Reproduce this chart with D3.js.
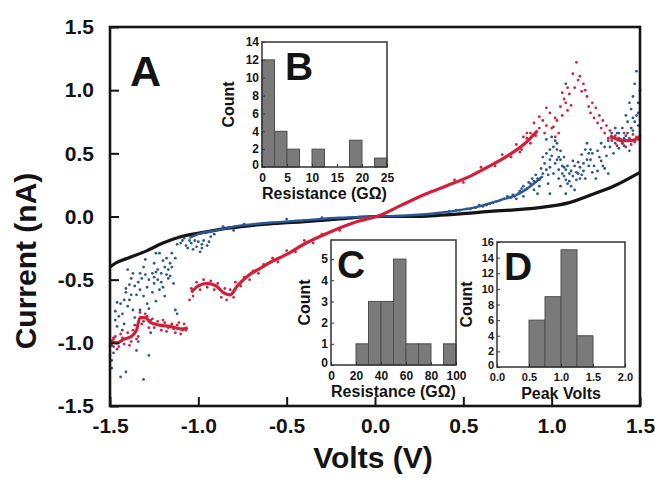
<!DOCTYPE html>
<html>
<head>
<meta charset="utf-8">
<script src="https://cdn.jsdelivr.net/npm/d3@7"></script>
<style>
body { margin: 0; background: #fff; }
svg { display: block; font-family: "Liberation Sans", Arial, sans-serif; font-weight: bold; }
</style>
</head>
<body>
<svg id="chart" width="655" height="478"></svg>
<script>
// ---- main I-V data, [volts, nA] ----
const voltTicks = [-1.5, -1.0, -0.5, 0.0, 0.5, 1.0, 1.5]
const currentTicks = [-1.5, -1.0, -0.5, 0.0, 0.5, 1.0, 1.5]

const blackLine = [[-1.50,-0.40],[-1.47,-0.37],[-1.40,-0.33],[-1.29,-0.27],[-1.20,-0.21],[-1.10,-0.16],
  [-0.99,-0.13],[-0.82,-0.09],[-0.61,-0.06],[-0.40,-0.04],[-0.20,-0.02],[0.00,0.00],[0.20,0.00],
  [0.37,0.01],[0.65,0.04],[0.93,0.07],[1.10,0.11],[1.22,0.17],[1.35,0.24],[1.50,0.35]]

const blueLine = [[-1.05,-0.17],[-1.00,-0.14],[-0.90,-0.11],[-0.80,-0.08],[-0.60,-0.05],[-0.40,-0.03],
  [-0.20,-0.01],[0.00,0.00],[0.20,0.01],[0.37,0.03],[0.48,0.05],[0.59,0.08],[0.71,0.13],[0.80,0.17],
  [0.88,0.24],[0.95,0.32]]

const blueDots = [[-1.50,-1.03],[-1.48,-1.08],[-1.49,-1.14],[-1.47,-0.82],[-1.45,-0.79],[-1.44,-0.69],
  [-1.42,-0.66],[-1.41,-0.60],[-1.41,-0.57],[-1.39,-0.54],[-1.38,-0.49],[-1.37,-0.45],[-1.40,-0.42],
  [-1.35,-0.62],[-1.33,-0.58],[-1.32,-0.49],[-1.31,-0.40],[-1.30,-0.34],[-1.29,-0.69],[-1.28,-0.73],
  [-1.27,-0.82],[-1.27,-0.92],[-1.25,-0.53],[-1.25,-0.48],[-1.24,-0.44],[-1.23,-0.42],[-1.22,-0.29],
  [-1.21,-0.52],[-1.20,-0.56],[-1.19,-0.63],[-1.18,-0.46],[-1.17,-0.42],[-1.16,-0.37],[-1.15,-0.29],
  [-1.14,-0.53],[-1.13,-0.74],[-1.12,-0.77],[-1.44,-1.27],[-1.41,-1.23],[-1.31,-1.29],[-1.28,-1.10],
  [-1.35,-1.06],[-1.34,-0.99],[-1.33,-0.74],[-1.37,-0.74],[-1.39,-0.66],[-1.43,-0.90],[-1.46,-0.87],
  [-1.48,-0.96],[-1.45,-1.00],[-1.24,-0.67],[-1.22,-0.58],[-1.19,-0.40],[-1.17,-0.49],[-1.25,-0.37],
  [-1.24,-0.29],[-1.08,-0.17],[-1.04,-0.21],[-1.01,-0.24],[-0.99,-0.28],[-0.97,-0.19],[-0.95,-0.23],
  [-1.06,-0.25],[-1.10,-0.21],[-0.93,-0.16],[-1.02,-0.19],[-0.98,-0.22],[-0.96,-0.13],[-0.91,-0.14],
  [-0.86,-0.08],[-0.80,-0.11],[-0.74,-0.06],[-0.50,-0.02],[-0.30,-0.01],
  [-1.47,-0.75],[-1.46,-0.68],[-1.43,-0.77],[-1.40,-0.71],[-1.38,-0.62],[-1.36,-0.55],[-1.34,-0.52],
  [-1.33,-0.45],[-1.30,-0.46],[-1.29,-0.56],[-1.28,-0.50],[-1.26,-0.45],[-1.23,-0.50],[-1.21,-0.45],
  [-1.20,-0.35],[-1.18,-0.33],[-1.16,-0.47],[-1.15,-0.40],[-1.13,-0.33],[-1.12,-0.22],[-1.09,-0.19],
  [-1.07,-0.23],[-1.05,-0.19],[-1.03,-0.26],[-1.00,-0.20],[-0.98,-0.25],[-0.94,-0.20],[-1.49,-1.20],
  [-1.50,-1.10],[-1.48,-1.03],[-1.42,-0.85],[-1.36,-0.80],[-1.31,-0.63],[-1.26,-0.60],
  [0.42,0.04],[0.48,0.05],[0.54,0.06],[0.59,0.09],[0.65,0.10],[0.71,0.13],[0.75,0.16],[0.78,0.17],
  [0.82,0.20],[0.84,0.24],[0.86,0.22],[0.88,0.26],[0.90,0.28],[0.92,0.30],[0.93,0.29],[0.95,0.34],
  [0.97,0.37],[0.99,0.39],[0.90,0.21],[0.80,0.14],[0.84,0.16],[0.93,0.24],[0.95,0.47],[0.97,0.50],
  [0.99,0.53],[1.01,0.55],[1.03,0.53],[1.04,0.47],[1.05,0.45],[1.07,0.39],[1.08,0.37],[1.10,0.34],
  [1.12,0.32],[1.14,0.29],[1.15,0.34],[1.16,0.39],[1.18,0.42],[1.20,0.45],[1.21,0.50],[1.22,0.53],
  [0.99,0.45],[1.02,0.42],[1.06,0.34],[1.08,0.29],[1.09,0.26],[1.11,0.24],[1.13,0.21],[0.97,0.61],
  [1.00,0.63],[1.03,0.58],[1.08,1.05],[0.98,0.26],[1.05,0.24],[1.08,0.18],[1.01,0.34],[1.04,0.37],
  [1.17,0.49],[1.19,0.53],[1.20,0.58],[0.99,0.18],[0.92,0.18],
  [1.00,0.48],[1.02,0.60],[1.03,0.45],[1.05,0.52],[1.06,0.40],[1.07,0.47],[1.09,0.40],[1.10,0.28],
  [1.11,0.36],[1.13,0.40],[1.14,0.35],[1.16,0.30],[1.17,0.33],[1.18,0.36],[1.19,0.30],[1.21,0.40],
  [1.22,0.45],[1.23,0.50],[0.96,0.42],[0.98,0.33],[0.94,0.38],[0.91,0.33],[0.89,0.30],[0.87,0.27],
  [0.85,0.21],[0.83,0.22],[0.81,0.18],[0.79,0.16],[0.77,0.15],[0.73,0.14],[0.69,0.12],[0.67,0.11],
  [0.63,0.09],[0.61,0.08],[0.57,0.07],[0.52,0.06],[0.46,0.05],[1.12,0.44],[1.15,0.43],[1.04,0.30],
  [1.07,0.32],
  [1.24,0.40],[1.26,0.36],[1.28,0.44],[1.30,0.38],[1.31,0.48],[1.33,0.55],[1.34,0.62],[1.35,0.50],
  [1.36,0.58],[1.37,0.66],[1.38,0.54],[1.39,0.61],[1.40,0.70],[1.41,0.56],[1.42,0.64],[1.43,0.75],
  [1.44,0.60],[1.45,0.85],[1.46,0.68],[1.46,0.95],[1.47,1.05],[1.48,0.80],[1.48,1.15],[1.49,0.90],
  [1.50,1.00],[1.49,0.72],[1.44,0.52],[1.40,0.58],[1.32,0.34],[1.29,0.40],[1.27,0.47],[1.25,0.30],
  [1.23,0.35],[1.26,0.52],[1.28,0.58],[1.30,0.55],[1.32,0.60],[1.34,0.66],[1.36,0.70],[1.38,0.66],
  [1.41,0.62],[1.43,0.66],[1.45,0.70],[1.47,0.75],[1.49,0.82],[1.42,0.80],[1.44,0.90],[1.46,0.78]]

const redLineLow = [[-1.50,-0.98],[-1.46,-1.00],[-1.42,-0.97],[-1.38,-0.95],[-1.35,-0.90],[-1.33,-0.80],
  [-1.30,-0.80],[-1.27,-0.84],[-1.22,-0.86],[-1.16,-0.87],[-1.10,-0.89],[-1.06,-0.88]]

const redLineMid = [[-1.04,-0.60],[-1.00,-0.55],[-0.95,-0.53],[-0.90,-0.55],[-0.86,-0.60],[-0.82,-0.62],
  [-0.78,-0.55],[-0.72,-0.47],[-0.65,-0.41],[-0.59,-0.36],[-0.50,-0.30],[-0.39,-0.21],[-0.25,-0.12],
  [-0.10,-0.04],[0.03,0.01],[0.15,0.09],[0.29,0.18],[0.40,0.24],[0.54,0.32],[0.65,0.40],[0.75,0.48],
  [0.85,0.58],[0.92,0.68]]

const redLineTail = [[1.33,0.64],[1.40,0.60],[1.45,0.60],[1.50,0.63]]

const redDots = [[-1.49,-1.02],[-1.47,-0.95],[-1.45,-1.03],[-1.44,-0.93],[-1.42,-1.01],[-1.40,-0.92],
  [-1.38,-0.99],[-1.37,-0.90],[-1.36,-0.86],[-1.34,-0.95],[-1.33,-0.76],[-1.31,-0.83],[-1.30,-0.77],
  [-1.28,-0.88],[-1.26,-0.81],[-1.25,-0.88],[-1.23,-0.83],[-1.21,-0.90],[-1.19,-0.84],[-1.18,-0.91],
  [-1.15,-0.85],[-1.13,-0.92],[-1.12,-0.86],[-1.10,-0.93],[-1.08,-0.85],[-1.07,-0.90],
  [-1.48,-0.97],[-1.46,-1.05],[-1.43,-0.96],[-1.39,-1.02],[-1.35,-0.97],[-1.32,-0.85],[-1.29,-0.79],
  [-1.24,-0.85],[-1.20,-0.82],[-1.17,-0.88],[-1.14,-0.89],[-1.11,-0.84],[-1.09,-0.90],
  [-1.05,-0.66],[-1.04,-0.57],[-1.03,-0.63],[-1.01,-0.52],[-0.99,-0.58],[-0.97,-0.50],[-0.95,-0.56],
  [-0.93,-0.51],[-0.91,-0.58],[-0.89,-0.53],[-0.87,-0.64],[-0.85,-0.57],[-0.84,-0.66],[-0.82,-0.58],
  [-0.80,-0.64],[-0.79,-0.52],[-0.76,-0.55],[-0.74,-0.48],[-0.71,-0.50],[-0.69,-0.43],[-0.66,-0.45],
  [-0.63,-0.38],[-0.58,-0.33],[-0.55,-0.36],[-0.50,-0.27],[-0.45,-0.28],[-0.40,-0.19],[-0.35,-0.21],
  [-0.30,-0.14],[-0.20,-0.11],[0.45,0.29],[0.50,0.27],[0.60,0.39],[0.68,0.40],[0.72,0.49],[0.77,0.47],
  [0.82,0.51],[0.86,0.62],
  [0.80,0.57],[0.83,0.53],[0.84,0.63],[0.86,0.66],[0.88,0.58],[0.88,0.66],[0.90,0.74],[0.91,0.64],
  [0.93,0.79],[0.93,0.70],[0.95,0.76],[0.96,0.66],[0.97,0.72],[0.99,0.82],[1.00,0.70],[1.01,0.71],
  [1.02,0.78],[1.03,0.76],[1.04,0.66],[1.05,0.87],[1.06,0.80],[1.07,0.93],[1.08,0.90],[1.09,0.84],
  [1.10,0.97],[1.11,0.88],[1.12,1.13],[1.13,1.02],[1.14,1.22],[1.15,1.08],[1.16,1.11],[1.17,0.99],
  [1.18,1.05],[1.19,1.00],[1.20,0.95],[1.21,0.87],[1.22,0.82],[1.23,0.90],[1.24,0.78],[1.25,0.86],
  [1.26,0.74],[1.27,0.80],[1.28,0.70],[1.29,0.76],[1.30,0.66],[1.31,0.72],[1.32,0.62],[1.33,0.68],
  [1.34,0.60],[1.36,0.64],[1.37,0.56],[1.38,0.62],[1.40,0.58],[1.41,0.66],[1.42,0.55],[1.44,0.62],
  [1.45,0.57],[1.46,0.65],[1.47,0.59],[1.48,0.63],[1.49,0.61],[1.50,0.64],[1.02,0.63],[0.97,0.86],
  [1.06,0.98],[1.09,1.02]]

// ---- histogram insets ----
const binStartsB = [0, 2.5, 5, 7.5, 10, 12.5, 15, 17.5, 20, 22.5]
const countsB = [12, 4, 2, 0, 2, 0, 0, 3, 0, 1]
const xTicksB = [0, 5, 10, 15, 20, 25]
const yTicksB = [0, 2, 4, 6, 8, 10, 12, 14]

const binStartsC = [0, 10, 20, 30, 40, 50, 60, 70, 80, 90]
const countsC = [0, 0, 1, 3, 3, 5, 1, 1, 0, 1]
const xTicksC = [0, 20, 40, 60, 80, 100]
const yTicksC = [0, 1, 2, 3, 4, 5]

const binStartsD = [0, 0.25, 0.5, 0.75, 1.0, 1.25, 1.5, 1.75]
const countsD = [0, 0, 6, 9, 15, 4, 0, 0]
const xTicksD = [0.0, 0.5, 1.0, 1.5, 2.0]
const yTicksD = [0, 2, 4, 6, 8, 10, 12, 14, 16]

const RED = '#d3203a'
const BLUE = '#2c5796'
const INK = '#141414'

let svg = d3.select('#chart')

let x = d3.scaleLinear().domain([-1.5, 1.5]).range([110, 640])
let y = d3.scaleLinear().domain([-1.5, 1.5]).range([406, 27])

let line = d3.line()
.x(d => x(d[0]))
.y(d => y(d[1]))
.curve(d3.curveMonotoneX)

let data = svg.append('g')

// black trace
data.append('path')
.attr('d', line(blackLine))
.attr('fill', 'none')
.attr('stroke', INK)
.attr('stroke-width', 3.2)

// blue trace
data.append('path')
.attr('d', line(blueLine))
.attr('fill', 'none')
.attr('stroke', BLUE)
.attr('stroke-width', 2.4)

data.append('g')
.selectAll('circle')
.data(blueDots)
.enter()
.append('circle')
.attr('cx', d => x(d[0]))
.attr('cy', d => y(d[1]))
.attr('r', 1.4)
.attr('fill', BLUE)

// red trace
;[redLineLow, redLineMid, redLineTail].forEach(seg => {
	data.append('path')
	.attr('d', line(seg))
	.attr('fill', 'none')
	.attr('stroke', RED)
	.attr('stroke-width', 3.2)
})

data.append('g')
.selectAll('circle')
.data(redDots)
.enter()
.append('circle')
.attr('cx', d => x(d[0]))
.attr('cy', d => y(d[1]))
.attr('r', 1.4)
.attr('fill', RED)

// main axes
let fmt = d => d.toFixed(1)

let xAxis = svg.append('g')
.attr('transform', 'translate(0,406)')
.call(d3.axisBottom(x).tickValues(voltTicks).tickFormat(fmt).tickSizeInner(-9).tickSizeOuter(0).tickPadding(12))

let yAxis = svg.append('g')
.attr('transform', 'translate(110,0)')
.call(d3.axisLeft(y).tickValues(currentTicks).tickFormat(fmt).tickSizeInner(-9).tickSizeOuter(0).tickPadding(16))

;[xAxis, yAxis].forEach(ax => {
	ax.select('.domain').remove()
	ax.selectAll('line').attr('stroke', INK).attr('stroke-width', 2)
	ax.selectAll('text').attr('fill', INK).style('font-size', '21px').style('font-weight', 'bold').style('font-family', '"Liberation Sans", Arial, sans-serif')
})

svg.append('rect')
.attr('x', 110).attr('y', 27)
.attr('width', 530).attr('height', 379)
.attr('fill', 'none')
.attr('stroke', INK)
.attr('stroke-width', 2.6)

svg.append('text')
.attr('x', 373).attr('y', 468)
.attr('text-anchor', 'middle')
.style('font-size', '30px')
.attr('fill', INK)
.text('Volts (V)')

svg.append('text')
.attr('transform', 'translate(36,261) rotate(-90)')
.attr('text-anchor', 'middle')
.style('font-size', '30px')
.attr('fill', INK)
.text('Current (nA)')

svg.append('text')
.attr('x', 130).attr('y', 86)
.style('font-size', '43px')
.attr('fill', INK)
.text('A')

// INSETS

function drawInset(o){

	let g = svg.append('g')

	let sx = d3.scaleLinear().domain(o.xDomain).range([o.left, o.right])
	let sy = d3.scaleLinear().domain(o.yDomain).range([o.bottom, o.top])

	g.append('rect')
	.attr('x', o.left).attr('y', o.top)
	.attr('width', o.right - o.left).attr('height', o.bottom - o.top)
	.attr('fill', '#fff')

	let bars = o.starts.map((s, i) => ({s: s, c: o.counts[i]})).filter(d => d.c > 0)

	g.selectAll('rect.bar')
	.data(bars)
	.enter()
	.append('rect')
	.attr('class', 'bar')
	.attr('x', d => sx(d.s))
	.attr('width', sx(o.binWidth) - sx(0))
	.attr('y', d => sy(d.c))
	.attr('height', d => sy(0) - sy(d.c))
	.attr('fill', '#7a7a7a')
	.attr('stroke', '#4e4e4e')
	.attr('stroke-width', 1)

	let ax = g.append('g')
	.attr('transform', 'translate(0,' + o.bottom + ')')
	.call(d3.axisBottom(sx).tickValues(o.xTicks).tickFormat(o.xFmt).tickSizeInner(-3).tickSizeOuter(0).tickPadding(6))

	let ay = g.append('g')
	.attr('transform', 'translate(' + o.left + ',0)')
	.call(d3.axisLeft(sy).tickValues(o.yTicks).tickFormat(d3.format('d')).tickSizeInner(-3).tickSizeOuter(0).tickPadding(3))

	;[ax, ay].forEach(a => {
		a.select('.domain').remove()
		a.selectAll('line').attr('stroke', '#333').attr('stroke-width', 1)
		a.selectAll('text').attr('fill', INK).style('font-size', o.tickSize + 'px').style('font-weight', 'bold').style('font-family', '"Liberation Sans", Arial, sans-serif')
	})

	// lift the zero count label a little so it clears the x labels
	ay.selectAll('.tick').filter(d => d === 0).select('text').attr('dy', '0.1em')

	g.append('rect')
	.attr('x', o.left).attr('y', o.top)
	.attr('width', o.right - o.left).attr('height', o.bottom - o.top)
	.attr('fill', 'none')
	.attr('stroke', '#333')
	.attr('stroke-width', 1.5)

	g.append('text')
	.attr('x', (o.left + o.right) / 2).attr('y', o.bottom + 32)
	.attr('text-anchor', 'middle')
	.style('font-size', '16px')
	.attr('fill', INK)
	.text(o.xTitle)

	g.append('text')
	.attr('transform', 'translate(' + o.countX + ',' + ((o.top + o.bottom) / 2) + ') rotate(-90)')
	.attr('text-anchor', 'middle')
	.style('font-size', '16px')
	.attr('fill', INK)
	.text('Count')

	g.append('text')
	.attr('x', o.letterX).attr('y', o.top + 38)
	.style('font-size', '39px')
	.attr('fill', INK)
	.text(o.letter)
}

drawInset({
	left: 262, right: 387, top: 42, bottom: 167,
	xDomain: [0, 25], yDomain: [0, 14],
	starts: binStartsB, counts: countsB, binWidth: 2.5,
	xTicks: xTicksB, yTicks: yTicksB, xFmt: d3.format('d'), tickSize: 12,
	xTitle: 'Resistance (G\u03A9)', countX: 234, letter: 'B', letterX: 285
})

drawInset({
	left: 331, right: 456, top: 240, bottom: 365,
	xDomain: [0, 100], yDomain: [0, 5.9],
	starts: binStartsC, counts: countsC, binWidth: 10,
	xTicks: xTicksC, yTicks: yTicksC, xFmt: d3.format('d'), tickSize: 12,
	xTitle: 'Resistance (G\u03A9)', countX: 310, letter: 'C', letterX: 337
})

drawInset({
	left: 497, right: 625, top: 242, bottom: 367,
	xDomain: [0, 2], yDomain: [0, 16],
	starts: binStartsD, counts: countsD, binWidth: 0.25,
	xTicks: xTicksD, yTicks: yTicksD, xFmt: d => d.toFixed(1), tickSize: 11,
	xTitle: 'Peak Volts', countX: 472, letter: 'D', letterX: 504
})

</script>
</body>
</html>
